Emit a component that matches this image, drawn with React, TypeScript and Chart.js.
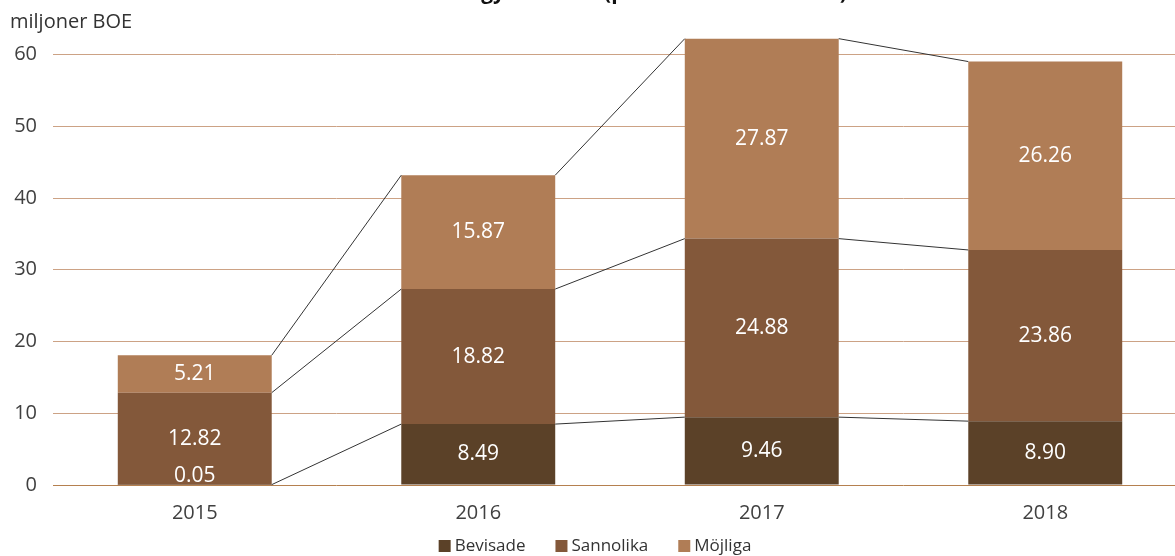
import React, { useEffect, useRef } from "react";
import { Chart, registerables } from "chart.js";

Chart.register(...registerables);

const categories = ["2015", "2016", "2017", "2018"];
const bevisade = [0.05, 8.49, 9.46, 8.9];
const sannolika = [12.82, 18.82, 24.88, 23.86];
const mojliga = [5.21, 15.87, 27.87, 26.26];
const yTicks = [0, 10, 20, 30, 40, 50, 60];
const seriesNames = ["Bevisade", "Sannolika", "Möjliga"];
const seriesColors = ["#5b4128", "#83583a", "#b07d56"];
const titleText = "Maha Energy reserver (per 31 december 2018)";
const unitLabel = "miljoner BOE";

const FONT = "'Open Sans', sans-serif";

const overlayPlugin = {
  id: "overlay",
  afterDatasetsDraw(chart: any) {
    const ctx = chart.ctx;
    const area = chart.chartArea;
    const n = chart.data.datasets.length;
    ctx.save();
    ctx.strokeStyle = "#333333";
    ctx.lineWidth = 1;
    for (let d = 0; d < n; d++) {
      const meta = chart.getDatasetMeta(d);
      for (let j = 0; j < meta.data.length - 1; j++) {
        const a = meta.data[j];
        const b = meta.data[j + 1];
        ctx.beginPath();
        ctx.moveTo(a.x + a.width / 2, a.y);
        ctx.lineTo(b.x - b.width / 2, b.y);
        ctx.stroke();
      }
    }
    ctx.fillStyle = "#ffffff";
    ctx.font = `21px ${FONT}`;
    ctx.textAlign = "center";
    ctx.textBaseline = "middle";
    for (let d = 0; d < n; d++) {
      const meta = chart.getDatasetMeta(d);
      const values = chart.data.datasets[d].data;
      meta.data.forEach((el: any, j: number) => {
        let cy = (el.y + el.base) / 2;
        cy = Math.min(cy, area.bottom - 9);
        ctx.fillText(Number(values[j]).toFixed(2), el.x, cy);
      });
    }
    ctx.restore();
  },
  afterDraw(chart: any) {
    const ctx = chart.ctx;
    ctx.save();
    ctx.fillStyle = "#111111";
    ctx.font = `bold 21px ${FONT}`;
    ctx.textAlign = "center";
    ctx.textBaseline = "alphabetic";
    ctx.fillText(titleText, 608, -1);
    ctx.fillStyle = "#333333";
    ctx.font = `20px ${FONT}`;
    ctx.textAlign = "left";
    ctx.textBaseline = "middle";
    ctx.fillText(unitLabel, 10, 22);
    ctx.font = `17px ${FONT}`;
    const box = 12;
    const gapBoxText = 4;
    const gapItems = 30;
    const widths = seriesNames.map((s) => box + gapBoxText + ctx.measureText(s).width);
    const total = widths.reduce((a, b) => a + b, 0) + gapItems * (seriesNames.length - 1);
    let x = 595 - total / 2;
    const cy = 546;
    seriesNames.forEach((s, i) => {
      ctx.fillStyle = seriesColors[i];
      ctx.fillRect(x, cy - box / 2, box, box);
      ctx.fillStyle = "#333333";
      ctx.fillText(s, x + box + gapBoxText, cy);
      x += widths[i] + gapItems;
    });
    ctx.restore();
  },
};

export default function App() {
  const ref = useRef<HTMLCanvasElement | null>(null);
  useEffect(() => {
    if (!ref.current) return;
    const chart = new Chart(ref.current, {
      type: "bar",
      data: {
        labels: categories,
        datasets: [
          { label: seriesNames[0], data: bevisade, backgroundColor: seriesColors[0] },
          { label: seriesNames[1], data: sannolika, backgroundColor: seriesColors[1] },
          { label: seriesNames[2], data: mojliga, backgroundColor: seriesColors[2] },
        ],
      },
      options: {
        responsive: false,
        animation: false,
        layout: { padding: { top: 33, left: 0, right: 3, bottom: 0 } },
        datasets: {
          bar: { barPercentage: 0.543, categoryPercentage: 1 },
        },
        plugins: {
          legend: { display: false },
          title: { display: false },
          tooltip: { enabled: false },
        },
        scales: {
          x: {
            stacked: true,
            grid: { display: false, drawTicks: false },
            border: { display: false },
            ticks: { color: "#404040", font: { family: FONT, size: 20 }, padding: 16 },
            afterFit: (s: any) => {
              s.height = 71;
            },
          },
          y: {
            stacked: true,
            min: 0,
            max: 63,
            afterBuildTicks: (s: any) => {
              s.ticks = yTicks.map((v) => ({ value: v }));
            },
            grid: {
              drawTicks: false,
              color: (c: any) => (c.tick && c.tick.value === 0 ? "#b5804f" : "#cca285"),
              lineWidth: 1,
            },
            border: { display: false },
            ticks: { autoSkip: false, color: "#404040", font: { family: FONT, size: 20 }, padding: 16 },
            afterFit: (s: any) => {
              s.width = 53;
            },
          },
        },
      },
      plugins: [overlayPlugin],
    });
    return () => chart.destroy();
  }, []);
  return (
    <div style={{ position: "fixed", left: 0, top: 0, width: 1175, height: 556, overflow: "hidden", background: "#fff" }}>
      <canvas ref={ref} width={1190} height={556} style={{ display: "block" }} />
    </div>
  );
}
